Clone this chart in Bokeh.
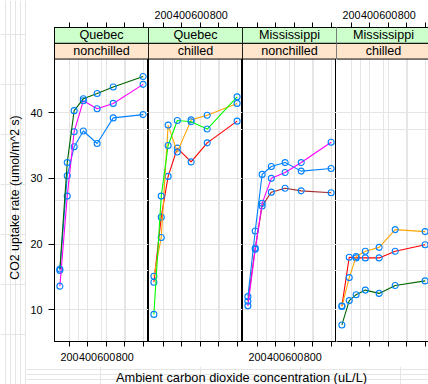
import math
from bokeh.plotting import figure
from bokeh.layouts import row, column
from bokeh.models import Range1d, LinearAxis, FixedTicker, Grid, Label
from bokeh.core.properties import value
from bokeh.embed import file_html
from bokeh.resources import INLINE

# ---------------- data ----------------
conc = [95, 175, 250, 350, 500, 675, 1000]
site_labels = ["Quebec", "Quebec", "Mississippi", "Mississippi"]
treat_labels = ["nonchilled", "chilled", "nonchilled", "chilled"]
panel_plants = [["Qn1", "Qn2", "Qn3"],
                ["Qc1", "Qc3", "Qc2"],
                ["Mn3", "Mn2", "Mn1"],
                ["Mc2", "Mc3", "Mc1"]]
Qn1 = [16.0, 30.4, 34.8, 37.2, 35.3, 39.2, 39.7]
Qn2 = [13.6, 27.3, 37.1, 41.8, 40.6, 41.4, 44.3]
Qn3 = [16.2, 32.4, 40.3, 42.1, 42.9, 43.9, 45.5]
Qc1 = [14.2, 24.1, 30.3, 34.6, 32.5, 35.4, 38.7]
Qc2 = [9.3, 27.3, 35.0, 38.8, 38.6, 37.5, 42.4]
Qc3 = [15.1, 21.0, 38.1, 34.0, 38.9, 39.6, 41.4]
Mn1 = [10.6, 19.2, 26.2, 30.0, 30.9, 32.4, 35.5]
Mn2 = [12.0, 22.0, 30.6, 31.8, 32.4, 31.1, 31.5]
Mn3 = [11.3, 19.4, 25.8, 27.9, 28.5, 28.1, 27.8]
Mc1 = [10.5, 14.9, 18.1, 18.9, 19.5, 22.2, 21.9]
Mc2 = [7.7, 11.4, 12.3, 13.0, 12.5, 13.7, 14.4]
Mc3 = [10.6, 18.0, 17.9, 17.9, 17.9, 18.9, 19.9]
uptake = {"Qn1": Qn1, "Qn2": Qn2, "Qn3": Qn3, "Qc1": Qc1, "Qc2": Qc2, "Qc3": Qc3,
          "Mn1": Mn1, "Mn2": Mn2, "Mn3": Mn3, "Mc1": Mc1, "Mc2": Mc2, "Mc3": Mc3}
plant_colors = {"Qn1": "#0080ff", "Qn2": "#ff00ff", "Qn3": "#006400",
                "Qc1": "#ff0000", "Qc3": "#ffa500", "Qc2": "#00ff00",
                "Mn3": "#a52a2a", "Mn2": "#0080ff", "Mn1": "#ff00ff",
                "Mc2": "#006400", "Mc3": "#ff0000", "Mc1": "#ffa500"}
x_ticks = [200, 400, 600, 800, 1000]
x_tick_labels = ["200", "400", "600", "800", ""]
y_ticks = [10, 20, 30, 40]

x_title = "Ambient carbon dioxide concentration (uL/L)"
y_title = "CO2 uptake rate (umol/m^2 s)"

# ---------------- style / layout ----------------
FONT = "Liberation Sans"
XLIM = (36.5, 1058.5)
YLIM = (5.18, 48.15)
STRIP = 2.4
FRAME_W = 94
FRAME_H = 314
LEFT_W = 26
TOP_B = 27
BOT_B = 25
POINT_COL = "#0080ff"
GRID_COL = "#e6e6e6"
STRIP_TOP = "#ccffcc"
STRIP_BOT = "#ffe5cc"


def make_axis(show_labels, **kw):
    ax = LinearAxis(ticker=FixedTicker(ticks=x_ticks, minor_ticks=[]), **kw)
    if show_labels:
        ax.major_label_overrides = {t: l for t, l in zip(x_ticks, x_tick_labels)}
    else:
        ax.major_label_overrides = {t: "" for t in x_ticks}
    ax.axis_line_color = "black"
    ax.major_tick_line_color = "black"
    ax.major_tick_out = 5
    ax.major_tick_in = 0
    ax.minor_tick_line_color = None
    ax.major_label_text_font = FONT
    ax.major_label_text_font_size = "10.8px"
    ax.major_label_text_color = "black"
    return ax


panels = []
for i in range(4):
    fw = FRAME_W if i < 3 else 428 - LEFT_W - (FRAME_W * 3 + 28)
    x_end = XLIM[0] + fw * (XLIM[1] - XLIM[0]) / FRAME_W
    p = figure(frame_width=fw, frame_height=FRAME_H,
               x_range=Range1d(XLIM[0], x_end),
               y_range=Range1d(YLIM[0], YLIM[1] + 2 * STRIP),
               x_axis_location=None, y_axis_location=None,
               toolbar_location=None, output_backend="svg",
               min_border_top=TOP_B, min_border_bottom=BOT_B,
               min_border_left=(28 if i == 0 else 0), min_border_right=0)
    p.background_fill_color = "white"
    p.border_fill_color = "white"
    p.outline_line_color = "black" if i < 3 else None

    # grid: three equally spaced lines in each direction (quarters of panel)
    gx = [XLIM[0] + k * (XLIM[1] - XLIM[0]) / 4 for k in (1, 2, 3)]
    gy = [YLIM[0] + k * (YLIM[1] - YLIM[0]) / 4 for k in (1, 2, 3)]
    p.add_layout(Grid(dimension=0, ticker=FixedTicker(ticks=gx, minor_ticks=[]),
                      grid_line_color=GRID_COL, grid_line_width=1))
    p.add_layout(Grid(dimension=1, ticker=FixedTicker(ticks=gy, minor_ticks=[]),
                      grid_line_color=GRID_COL, grid_line_width=1))

    # axes
    p.add_layout(make_axis(i % 2 == 1, major_label_standoff=4), "above")
    p.add_layout(make_axis(i % 2 == 0, major_label_standoff=6), "below")
    if i == 0:
        ya = LinearAxis(ticker=FixedTicker(ticks=y_ticks, minor_ticks=[]))
        ya.axis_line_color = "black"
        ya.major_tick_line_color = "black"
        ya.major_tick_out = 6
        ya.major_tick_in = 0
        ya.minor_tick_line_color = None
        ya.major_label_standoff = 6
        ya.major_label_text_font = FONT
        ya.major_label_text_font_size = "10.8px"
        ya.major_label_text_color = "black"
        p.add_layout(ya, "left")

    # data
    for plant in panel_plants[i]:
        p.line(conc, uptake[plant], line_color=plant_colors[plant], line_width=1.1)
        p.scatter(conc, uptake[plant], marker="circle", size=6,
                  fill_color=None, line_color=POINT_COL, line_width=1.1)

    # strips
    p.quad(left=[XLIM[0]], right=[XLIM[1]], bottom=[YLIM[1]], top=[YLIM[1] + STRIP],
           fill_color=STRIP_BOT, line_color="black", line_width=1)
    p.quad(left=[XLIM[0]], right=[XLIM[1]], bottom=[YLIM[1] + STRIP], top=[YLIM[1] + 2 * STRIP],
           fill_color=STRIP_TOP, line_color="black", line_width=1)
    xc = (XLIM[0] + XLIM[1]) / 2
    p.text(x=[xc], y=[YLIM[1] + 0.5 * STRIP], text=[treat_labels[i]],
           text_align="center", text_baseline="middle",
           text_font=value(FONT), text_font_size="12.6px", text_color="black")
    p.text(x=[xc], y=[YLIM[1] + 1.5 * STRIP], text=[site_labels[i]],
           text_align="center", text_baseline="middle",
           text_font=value(FONT), text_font_size="12.6px", text_color="black")
    panels.append(p)

PANEL_TOTAL_H = TOP_B + FRAME_H + BOT_B
TOTAL_H = 384

# y title figure
ly = figure(width=LEFT_W, height=TOTAL_H, x_range=Range1d(0, LEFT_W), y_range=Range1d(0, TOTAL_H),
            x_axis_location=None, y_axis_location=None, toolbar_location=None,
            output_backend="svg", min_border=0)
ly.outline_line_color = None
ly.add_layout(Label(x=14, y=TOTAL_H - 197, text=y_title, angle=math.pi / 2,
                    text_align="center", text_baseline="middle",
                    text_font=FONT, text_font_size="12.3px", text_color="black"))

# x title figure
XT_W = 428 - LEFT_W
XT_H = TOTAL_H - PANEL_TOTAL_H
lx = figure(width=XT_W, height=XT_H, x_range=Range1d(LEFT_W, 428), y_range=Range1d(0, XT_H),
            x_axis_location=None, y_axis_location=None, toolbar_location=None,
            output_backend="svg", min_border=0)
lx.outline_line_color = None
lx.add_layout(Label(x=241, y=XT_H - 11, text=x_title,
                    text_align="center", text_baseline="middle",
                    text_font=FONT, text_font_size="12.8px", text_color="black"))

layout = row(ly, column(row(*panels), lx))
open("out.html", "w").write(file_html(layout, INLINE))
